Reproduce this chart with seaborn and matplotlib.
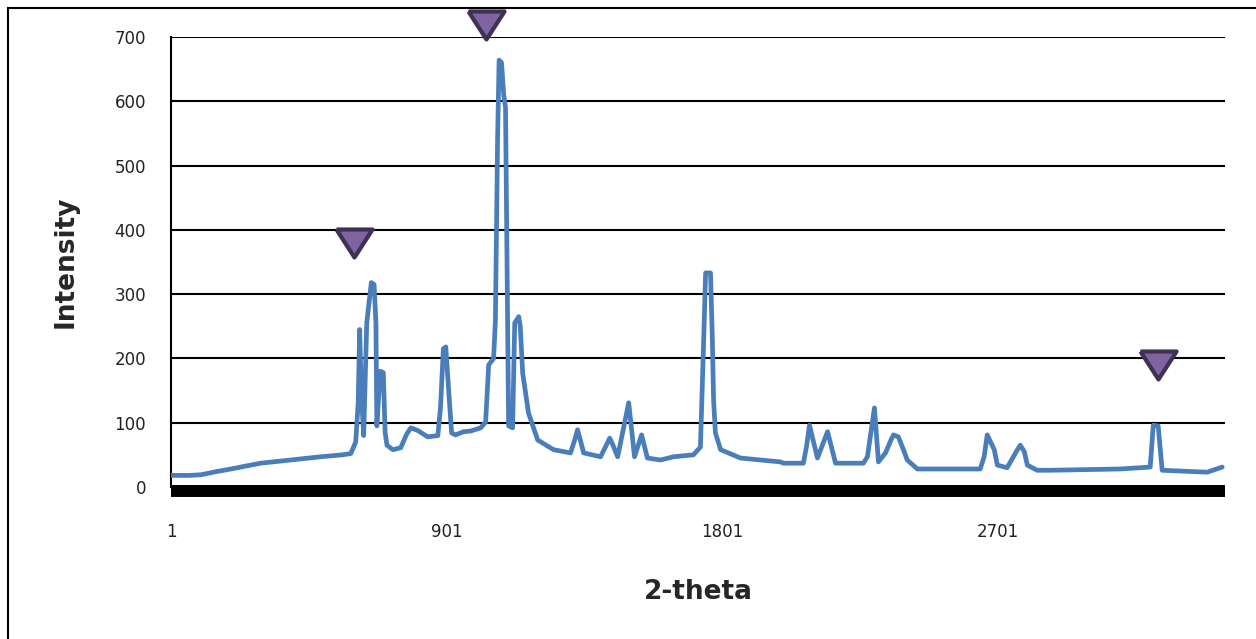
import matplotlib
matplotlib.use("Agg")
import matplotlib.pyplot as plt
import matplotlib.patches as patches
import pandas as pd
import seaborn as sns

# === Diffraction pattern ===
two_theta = [1, 60, 99, 150, 197, 250, 294, 392, 490, 560, 588, 604, 612, 617, 622,
             630, 640, 655, 664, 670, 673, 684, 694, 700, 706, 725, 751, 770, 784,
             806, 839, 872, 881, 890, 898, 908, 917, 930, 956, 979, 1012, 1028, 1038,
             1054, 1060, 1067, 1072, 1080, 1087, 1093, 1103, 1116, 1123, 1136, 1141,
             1149, 1168, 1198, 1250, 1305, 1320, 1328, 1336, 1348, 1403, 1425, 1433,
             1441, 1459, 1495, 1514, 1537, 1556, 1599, 1641, 1706, 1729, 1739, 1746,
             1762, 1768, 1772, 1778, 1795, 1860, 1990, 2000, 2065, 2075, 2085, 2111,
             2144, 2170, 2261, 2274, 2297, 2310, 2333, 2350, 2359, 2375, 2390, 2404,
             2437, 2642, 2655, 2665, 2688, 2698, 2730, 2760, 2773, 2786, 2796, 2828,
             2871, 3099, 3197, 3207, 3223, 3236, 3383, 3432]
intensity = [18, 18, 19, 24, 28, 33, 37, 42, 47, 50, 52, 70, 130, 245, 150,
             80, 255, 318, 315, 255, 95, 180, 178, 85, 65, 58, 61, 82, 92,
             88, 78, 80, 125, 215, 218, 146, 84, 81, 86, 87, 92, 101, 190,
             200, 260, 540, 664, 660, 610, 590, 95, 92, 255, 265, 250,
             177, 115, 73, 58, 53, 75, 89, 75, 53, 47, 68, 76,
             68, 47, 131, 47, 81, 45, 42, 47, 50, 62, 218, 333,
             333, 229, 135, 84, 58, 45, 39, 37, 37, 62, 96, 45,
             86, 37, 37, 47, 123, 39, 53, 72, 81, 78, 60, 42,
             28, 28, 47, 81, 58, 34, 30, 55, 65, 55, 34, 26,
             26, 28, 31, 96, 95, 26, 23, 31]

# marked peaks (purple triangles)
peak_x = [598, 1028, 3221]
peak_y = [380, 718, 190]

x_ticks = [1, 901, 1801, 2701]
y_ticks = [0, 100, 200, 300, 400, 500, 600, 700]

df = pd.DataFrame({"2-theta": two_theta, "Intensity": intensity})

sns.set_style("white")
plt.rcParams["font.family"] = ["DejaVu Sans"]

fig = plt.figure(figsize=(12.56, 6.39), dpi=100)
ax = fig.add_axes([0.1361, 0.2379, 0.8392, 0.7042])

sns.lineplot(data=df, x="2-theta", y="Intensity", color="#4a7ebb",
             linewidth=3.4, ax=ax, zorder=3, solid_joinstyle="round",
             solid_capstyle="round")

tri = [(-1, 0.775), (1, 0.775), (0, -0.775), (-1, 0.775)]
ax.scatter(peak_x, peak_y, marker=tri, s=26 ** 2, facecolor="#8064a2",
           edgecolor="#3f3151", linewidth=3, clip_on=False, zorder=5)

ax.set_xlim(1, 3441)
ax.set_ylim(0, 700)
ax.set_xticks(x_ticks)
ax.set_yticks(y_ticks)

ax.yaxis.grid(True, color="black", linewidth=1.5)
ax.xaxis.grid(False)
ax.set_axisbelow(True)

for s in ["top", "right"]:
    ax.spines[s].set_visible(False)
ax.spines["left"].set_color("black")
ax.spines["left"].set_linewidth(1.5)
ax.spines["bottom"].set_color("black")
ax.spines["bottom"].set_linewidth(8.6)
ax.spines["bottom"].set_capstyle("butt")
ax.spines["bottom"].set_position(("outward", 3))

ax.tick_params(axis="y", length=7, width=1.5, color="black", pad=11,
               labelsize=12, labelcolor="#222222")
ax.tick_params(axis="x", length=0, pad=23, labelsize=12, labelcolor="#222222")

ax.set_xlabel("2-theta", fontsize=19, fontweight="bold", labelpad=27)
ax.set_ylabel("Intensity", fontsize=19, fontweight="bold", labelpad=26)

# outer chart border (runs off the right and bottom of the image)
border = patches.Rectangle((8 / 1256, -0.5), 2, 0.5 + 1 - 8 / 639,
                           transform=fig.transFigure, fill=False,
                           edgecolor="black", linewidth=1.5, clip_on=False)
fig.add_artist(border)

plt.savefig("out.png", dpi=100)
